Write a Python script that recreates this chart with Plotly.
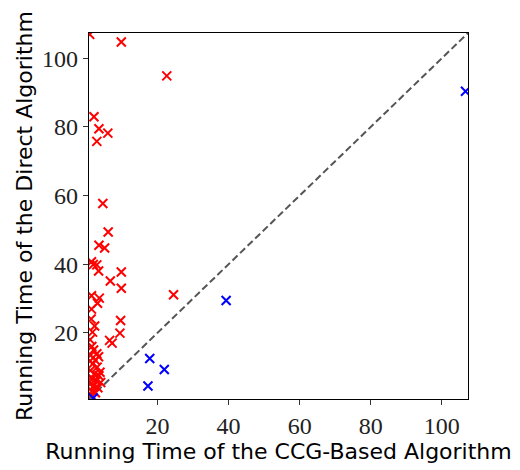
import plotly.graph_objects as go

# Red points (direct algorithm slower)
red_x = [0.9, 9.8, 22.6, 2.1, 3.5, 6.0, 2.9, 4.6, 6.1, 3.5, 5.1, 1.4, 2.9,
         1.9, 3.4, 9.8, 6.7, 9.8, 24.5, 1.4, 3.6, 3.1, 1.4, 9.6, 9.4, 1.7,
         6.5, 7.2, 2.9, 3.4,
         1.0, 1.5, 2.0, 1.2, 2.5, 1.8, 3.0, 1.1, 2.2, 3.5, 1.4, 2.8, 1.0,
         2.0, 3.2, 1.5, 2.5, 1.2, 4.0, 3.8, 1.3, 2.3, 1.0, 1.6]
red_y = [107.0, 104.8, 94.9, 83.0, 79.5, 78.2, 75.8, 57.7, 49.4, 45.5, 44.7, 40.7, 39.8,
         39.9, 38.0, 37.7, 35.1, 33.0, 31.1, 30.8, 30.1, 28.6, 26.9, 23.6, 19.9, 20.2,
         17.8, 17.0, 13.9, 13.0,
         18.0, 16.0, 15.0, 13.5, 12.0, 11.0, 10.0, 9.0, 8.0, 7.5, 7.0, 6.0, 5.0,
         4.5, 4.0, 3.0, 2.5, 2.0, 5.5, 8.5, 24.0, 22.0, 11.8, 6.5]

# Blue points (CCG-based algorithm slower)
blue_x = [17.8, 21.9, 17.3, 1.9, 39.3, 106.7]
blue_y = [12.5, 9.3, 4.5, 1.0, 29.4, 90.4]

axis_min, axis_max = 0.7, 107.4
tick_vals = [20, 40, 60, 80, 100]

fig = go.Figure()
fig.add_trace(go.Scatter(x=[axis_min, axis_max], y=[axis_min, axis_max], mode="lines",
                         line=dict(color="#555555", width=2, dash="7px,3.5px"),
                         showlegend=False, hoverinfo="skip"))
fig.add_trace(go.Scatter(x=red_x, y=red_y, mode="markers",
                         marker=dict(symbol="x-thin-open", size=9, color="red",
                                     line=dict(color="red", width=2)),
                         showlegend=False))
fig.add_trace(go.Scatter(x=blue_x, y=blue_y, mode="markers",
                         marker=dict(symbol="x-thin-open", size=9, color="blue",
                                     line=dict(color="blue", width=2)),
                         showlegend=False))

axis_common = dict(range=[axis_min, axis_max], tickvals=tick_vals,
                   ticks="outside", ticklen=5, tickwidth=1, tickcolor="#333",
                   showline=True, linecolor="black", linewidth=1.2, mirror=True,
                   showgrid=False, zeroline=False,
                   tickfont=dict(family="Liberation Serif", size=24, color="#222"))

fig.update_xaxes(title=dict(text="Running Time of the CCG-Based Algorithm",
                            font=dict(family="DejaVu Sans", size=22, color="black"),
                            standoff=4), **axis_common)
fig.update_yaxes(title=dict(text="Running Time of the Direct Algorithm",
                            font=dict(family="DejaVu Sans", size=22, color="black"),
                            standoff=3), **axis_common)

fig.update_layout(width=512, height=462, margin=dict(l=81, r=52, t=25, b=59),
                  plot_bgcolor="white", paper_bgcolor="white")

fig.write_html("out.html")
